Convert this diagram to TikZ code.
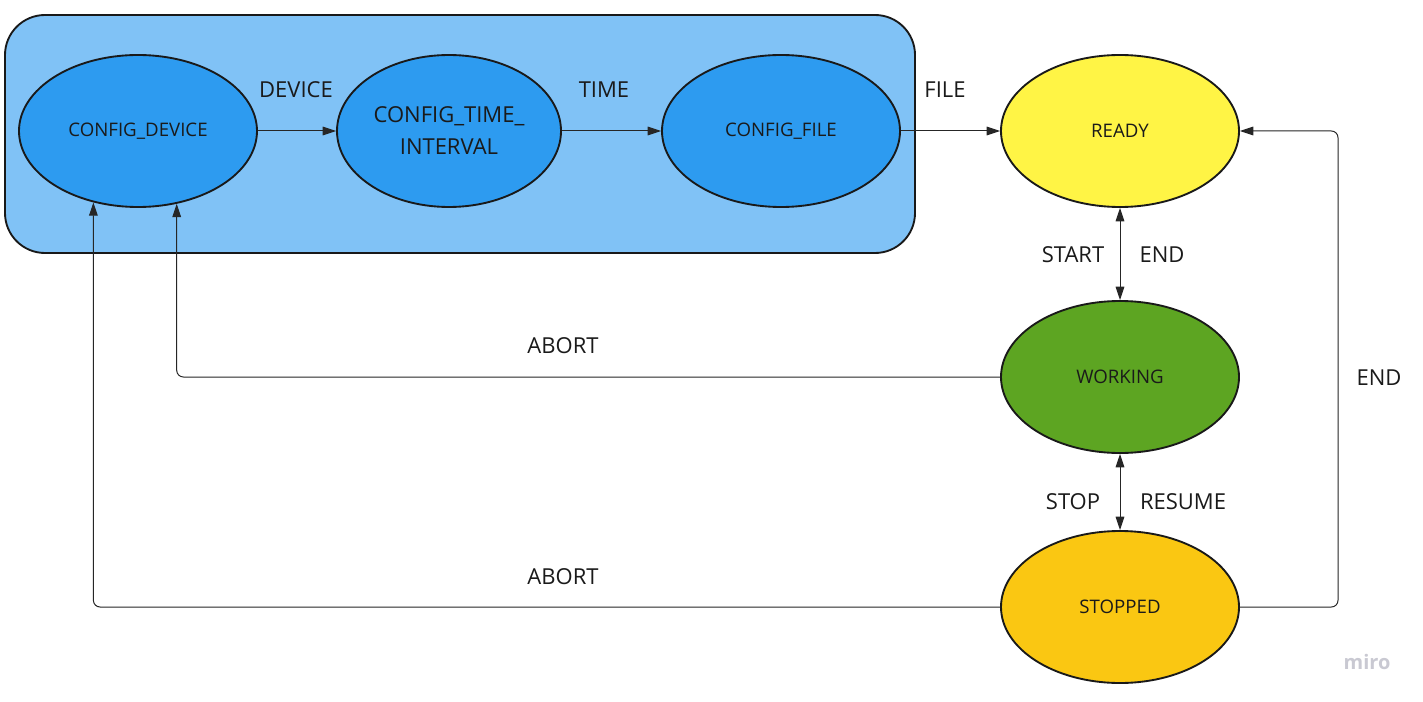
\documentclass[tikz,border=0pt]{standalone}
\usepackage{fontspec}
\setmainfont{Open Sans}
\usetikzlibrary{shapes.geometric,arrows.meta}
\definecolor{grpfill}{HTML}{80C2F6}
\definecolor{cfgfill}{HTML}{2D9BF0}
\definecolor{readyfill}{HTML}{FFF445}
\definecolor{workfill}{HTML}{5DA522}
\definecolor{stopfill}{HTML}{FAC712}
\definecolor{txt}{HTML}{1A1A1A}
\definecolor{mirogray}{HTML}{C9C9D2}
\tikzset{
  state/.style={ellipse, draw=black!90, line width=1.4pt, inner sep=0pt,
    minimum width=178.5pt, minimum height=114pt, text=txt,
    font=\fontsize{14}{16}\selectfont, align=center},
  lbl/.style={text=txt, font=\fontsize{16.5}{20}\selectfont, inner sep=0pt},
  arr/.style={draw=black!85, line width=0.75pt, rounded corners=5pt,
    -{Triangle[length=10pt,width=6.5pt]}},
  darr/.style={draw=black!85, line width=0.75pt,
    {Triangle[length=10pt,width=6.5pt]}-{Triangle[length=10pt,width=6.5pt]}}
}
\begin{document}
\begin{tikzpicture}[x=0.75pt,y=-0.75pt]
\useasboundingbox (0,0) rectangle (1423,702);
\fill[white] (0,0) rectangle (1423,702);
% group
\draw[fill=grpfill, draw=black!90, line width=1.4pt, rounded corners=30pt]
  (5,15) rectangle (915,253);
% states
\node[state, fill=cfgfill] (cd) at (138,131) {CONFIG\_DEVICE};
\node[state, fill=cfgfill, minimum width=168pt, font=\fontsize{16.5}{24}\selectfont] (cti) at (449,131) {CONFIG\_TIME\_\\INTERVAL};
\node[state, fill=cfgfill] (cf) at (781,131) {CONFIG\_FILE};
\node[state, fill=readyfill] (ready) at (1120,131) {READY};
\node[state, fill=workfill] (working) at (1120,377) {WORKING};
\node[state, fill=stopfill] (stopped) at (1120,607) {STOPPED};
\coordinate (rt) at (1338,370);
% connectors
\draw[arr] (cd) -- (cti);
\draw[arr] (cti) -- (cf);
\draw[arr] (cf) -- (ready);
\draw[darr] (ready) -- (working);
\draw[darr] (working) -- (stopped);
\draw[arr] (stopped.east) -| (rt) |- (ready.east);
\draw[arr] (working.west) -| (cd.-62.8);
\draw[arr] (stopped.west) -| (cd.-122.6);
% labels
\node[lbl] (ldev) at (296,90) {DEVICE};
\node[lbl] (ltime) at (604,90) {TIME};
\node[lbl] (lfile) at (945,90) {FILE};
\node[lbl] (lstart) at (1073,255) {START};
\node[lbl] (lend1) at (1162,255) {END};
\node[lbl] (labort1) at (563,346) {ABORT};
\node[lbl] (lend2) at (1379,378) {END};
\node[lbl] (lstop) at (1073,502) {STOP};
\node[lbl] (lresume) at (1183,502) {RESUME};
\node[lbl] (labort2) at (563,577) {ABORT};
\node[text=mirogray, font=\fontsize{15}{18}\selectfont\bfseries, inner sep=0pt] (miro) at (1367,662) {miro};
\end{tikzpicture}
\end{document}
